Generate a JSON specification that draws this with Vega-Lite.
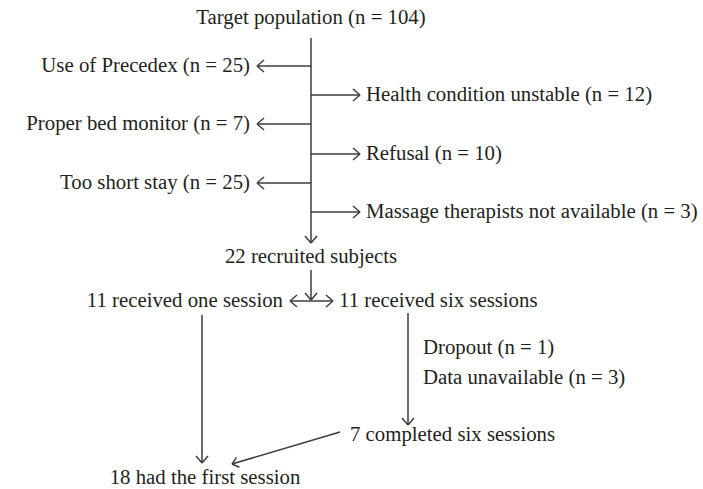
{
  "$schema": "https://vega.github.io/schema/vega-lite/v6.json",
  "width": 703,
  "height": 489,
  "autosize": {"type": "none"},
  "padding": 0,
  "background": "white",
  "config": {"view": {"stroke": null}},
  "datasets": {
    "lines": [
      {"x": 311, "y": 38, "x2": 311, "y2": 243},
      {"x": 305, "y": 236, "x2": 311, "y2": 243},
      {"x": 317, "y": 236, "x2": 311, "y2": 243},
      {"x": 311, "y": 66, "x2": 257, "y2": 66},
      {"x": 264, "y": 60, "x2": 257, "y2": 66},
      {"x": 264, "y": 72, "x2": 257, "y2": 66},
      {"x": 311, "y": 124, "x2": 257, "y2": 124},
      {"x": 264, "y": 118, "x2": 257, "y2": 124},
      {"x": 264, "y": 130, "x2": 257, "y2": 124},
      {"x": 311, "y": 183, "x2": 257, "y2": 183},
      {"x": 264, "y": 177, "x2": 257, "y2": 183},
      {"x": 264, "y": 189, "x2": 257, "y2": 183},
      {"x": 311, "y": 95, "x2": 360, "y2": 95},
      {"x": 353, "y": 89, "x2": 360, "y2": 95},
      {"x": 353, "y": 101, "x2": 360, "y2": 95},
      {"x": 311, "y": 154, "x2": 360, "y2": 154},
      {"x": 353, "y": 148, "x2": 360, "y2": 154},
      {"x": 353, "y": 160, "x2": 360, "y2": 154},
      {"x": 311, "y": 212, "x2": 360, "y2": 212},
      {"x": 353, "y": 206, "x2": 360, "y2": 212},
      {"x": 353, "y": 218, "x2": 360, "y2": 212},
      {"x": 311, "y": 270, "x2": 311, "y2": 300},
      {"x": 305, "y": 293, "x2": 311, "y2": 300},
      {"x": 317, "y": 293, "x2": 311, "y2": 300},
      {"x": 290, "y": 301, "x2": 333, "y2": 301},
      {"x": 297, "y": 295, "x2": 290, "y2": 301},
      {"x": 297, "y": 307, "x2": 290, "y2": 301},
      {"x": 326, "y": 295, "x2": 333, "y2": 301},
      {"x": 326, "y": 307, "x2": 333, "y2": 301},
      {"x": 202, "y": 315, "x2": 202, "y2": 463},
      {"x": 196, "y": 456, "x2": 202, "y2": 463},
      {"x": 208, "y": 456, "x2": 202, "y2": 463},
      {"x": 408, "y": 313, "x2": 408, "y2": 425},
      {"x": 402, "y": 418, "x2": 408, "y2": 425},
      {"x": 414, "y": 418, "x2": 408, "y2": 425},
      {"x": 340, "y": 432, "x2": 232, "y2": 464},
      {"x": 239.3, "y": 467.3, "x2": 232, "y2": 464},
      {"x": 236.5, "y": 457.4, "x2": 232, "y2": 464}
    ],
    "texts": [
      {"label": "Target population (n = 104)", "x": 311, "y": 18, "anchor": "center"},
      {"label": "Use of Precedex (n = 25)", "x": 250, "y": 66, "anchor": "right"},
      {"label": "Proper bed monitor (n = 7)", "x": 250, "y": 124, "anchor": "right"},
      {"label": "Too short stay (n = 25)", "x": 250, "y": 183, "anchor": "right"},
      {"label": "Health condition unstable (n = 12)", "x": 366, "y": 95, "anchor": "left"},
      {"label": "Refusal (n = 10)", "x": 366, "y": 154, "anchor": "left"},
      {"label": "Massage therapists not available (n = 3)", "x": 366, "y": 212, "anchor": "left"},
      {"label": "22 recruited subjects", "x": 311, "y": 257, "anchor": "center"},
      {"label": "11 received one session", "x": 283, "y": 301, "anchor": "right"},
      {"label": "11 received six sessions", "x": 339, "y": 301, "anchor": "left"},
      {"label": "Dropout (n = 1)", "x": 423, "y": 348, "anchor": "left"},
      {"label": "Data unavailable (n = 3)", "x": 423, "y": 378, "anchor": "left"},
      {"label": "7 completed six sessions", "x": 350, "y": 435, "anchor": "left"},
      {"label": "18 had the first session", "x": 205, "y": 478, "anchor": "center"}
    ]
  },
  "layer": [
    {
      "data": {"name": "lines"},
      "mark": {"type": "rule", "color": "#3c3c3c", "strokeWidth": 1.5},
      "encoding": {
        "x": {"field": "x", "type": "quantitative", "scale": {"domain": [0, 703], "nice": false, "zero": false}, "axis": null},
        "y": {"field": "y", "type": "quantitative", "scale": {"domain": [0, 489], "nice": false, "zero": false, "reverse": true}, "axis": null},
        "x2": {"field": "x2"},
        "y2": {"field": "y2"}
      }
    },
    {
      "data": {"name": "texts"},
      "transform": [{"filter": "datum.anchor === 'center'"}],
      "mark": {"type": "text", "align": "center", "baseline": "middle", "font": "Liberation Serif", "fontSize": 20.8, "color": "#231f20"},
      "encoding": {
        "x": {"field": "x", "type": "quantitative"},
        "y": {"field": "y", "type": "quantitative"},
        "text": {"field": "label"}
      }
    },
    {
      "data": {"name": "texts"},
      "transform": [{"filter": "datum.anchor === 'right'"}],
      "mark": {"type": "text", "align": "right", "baseline": "middle", "font": "Liberation Serif", "fontSize": 20.8, "color": "#231f20"},
      "encoding": {
        "x": {"field": "x", "type": "quantitative"},
        "y": {"field": "y", "type": "quantitative"},
        "text": {"field": "label"}
      }
    },
    {
      "data": {"name": "texts"},
      "transform": [{"filter": "datum.anchor === 'left'"}],
      "mark": {"type": "text", "align": "left", "baseline": "middle", "font": "Liberation Serif", "fontSize": 20.8, "color": "#231f20"},
      "encoding": {
        "x": {"field": "x", "type": "quantitative"},
        "y": {"field": "y", "type": "quantitative"},
        "text": {"field": "label"}
      }
    }
  ]
}
